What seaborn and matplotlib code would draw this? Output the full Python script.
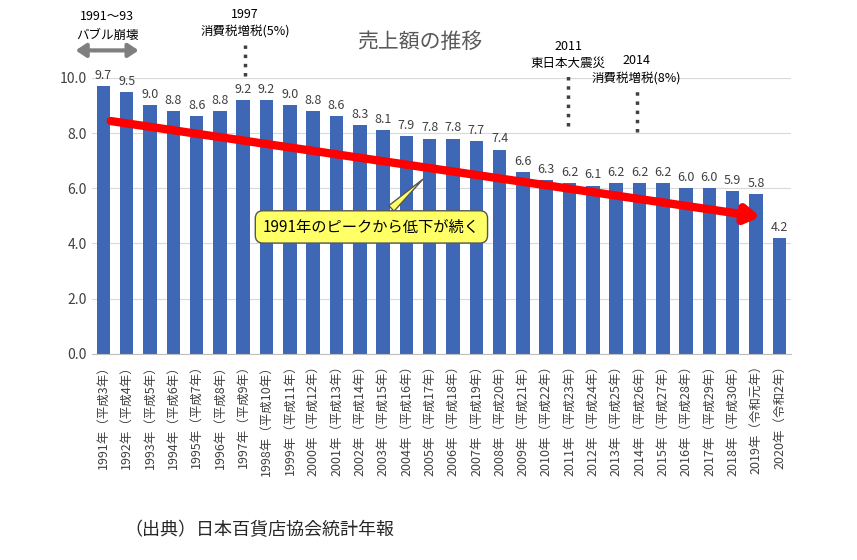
import matplotlib
matplotlib.use("Agg")
import matplotlib.pyplot as plt
import seaborn as sns
import pandas as pd

plt.rcParams["font.family"] = ["Noto Sans CJK JP", "DejaVu Sans"]

years = list(range(1991, 2021))
eras = ["平成3年","平成4年","平成5年","平成6年","平成7年","平成8年","平成9年","平成10年",
        "平成11年","平成12年","平成13年","平成14年","平成15年","平成16年","平成17年","平成18年",
        "平成19年","平成20年","平成21年","平成22年","平成23年","平成24年","平成25年","平成26年",
        "平成27年","平成28年","平成29年","平成30年","令和元年","令和2年"]
values = [9.7,9.5,9.0,8.8,8.6,8.8,9.2,9.2,9.0,8.8,8.6,8.3,8.1,7.9,7.8,7.8,7.7,7.4,
          6.6,6.3,6.2,6.1,6.2,6.2,6.2,6.0,6.0,5.9,5.8,4.2]
labels = [f"{y}年（{e}）" for y, e in zip(years, eras)]

df = pd.DataFrame({"label": labels, "value": values})

fig = plt.figure(figsize=(8.57, 5.60), dpi=100)
ax = fig.add_axes([0.107, 0.368, 0.816, 0.493])
sns.barplot(data=df, x="label", y="value", color="#3E67B5", saturation=1, width=0.58, ax=ax, zorder=2)
ax.set_xlim(-0.5, 29.5)
ax.set_ylim(0, 10)
ax.set_yticks([0, 2, 4, 6, 8, 10])
ax.set_yticklabels(["0.0", "2.0", "4.0", "6.0", "8.0", "10.0"], fontsize=10, color="#404040")
ax.yaxis.grid(True, color="#D9D9D9", lw=0.8, zorder=0)
ax.set_axisbelow(True)
for s in ["top", "right", "left"]:
    ax.spines[s].set_visible(False)
ax.spines["bottom"].set_color("#BFBFBF")
ax.tick_params(axis="x", rotation=90, labelsize=9, length=0, colors="#404040")
ax.tick_params(axis="y", length=0)
ax.set_xlabel("")
ax.set_ylabel("")

for i, v in enumerate(values):
    ax.text(i, v + 0.15, f"{v:.1f}", ha="center", va="bottom", fontsize=9, color="#404040")

ax.annotate("", xy=(28.3, 4.95), xytext=(0.2, 8.45),
            arrowprops=dict(arrowstyle="-|>,head_width=0.5,head_length=0.8", color="red", lw=6),
            zorder=5)
ax.annotate("1991年のピークから低下が続く", xy=(13.8, 6.4), xytext=(11.5, 4.6),
            ha="center", va="center", fontsize=11,
            bbox=dict(boxstyle="round,pad=0.5", fc="#FFFF66", ec="#555555"),
            arrowprops=dict(arrowstyle="wedge,tail_width=0.5", fc="#FFFF66", ec="#555555"),
            zorder=6)

fig.text(0.49, 0.925, "売上額の推移", ha="center", va="center", fontsize=15, color="#595959")
fig.text(0.125, 0.965, "1991～93", ha="center", fontsize=9)
fig.text(0.125, 0.93, "バブル崩壊", ha="center", fontsize=9)
fig.add_artist(matplotlib.patches.FancyArrowPatch((0.085, 0.91), (0.165, 0.91),
               arrowstyle="<|-|>,head_width=4,head_length=6", color="#7F7F7F", lw=3,
               transform=fig.transFigure))
fig.text(0.286, 0.968, "1997", ha="center", fontsize=9)
fig.text(0.286, 0.938, "消費税増税(5%)", ha="center", fontsize=9)
fig.add_artist(matplotlib.lines.Line2D([0.286, 0.286], [0.865, 0.92], ls=":", lw=2.5,
               color="#404040", transform=fig.transFigure))
fig.text(0.663, 0.91, "2011", ha="center", fontsize=9)
fig.text(0.663, 0.88, "東日本大震災", ha="center", fontsize=9)
fig.add_artist(matplotlib.lines.Line2D([0.663, 0.663], [0.775, 0.87], ls=":", lw=2.5,
               color="#404040", transform=fig.transFigure))
fig.text(0.743, 0.885, "2014", ha="center", fontsize=9)
fig.text(0.743, 0.855, "消費税増税(8%)", ha="center", fontsize=9)
fig.add_artist(matplotlib.lines.Line2D([0.743, 0.743], [0.765, 0.845], ls=":", lw=2.5,
               color="#404040", transform=fig.transFigure))

fig.text(0.145, 0.045, "（出典）日本百貨店協会統計年報", ha="left", fontsize=13, color="#262626")

fig.savefig("out.png", dpi=100)
